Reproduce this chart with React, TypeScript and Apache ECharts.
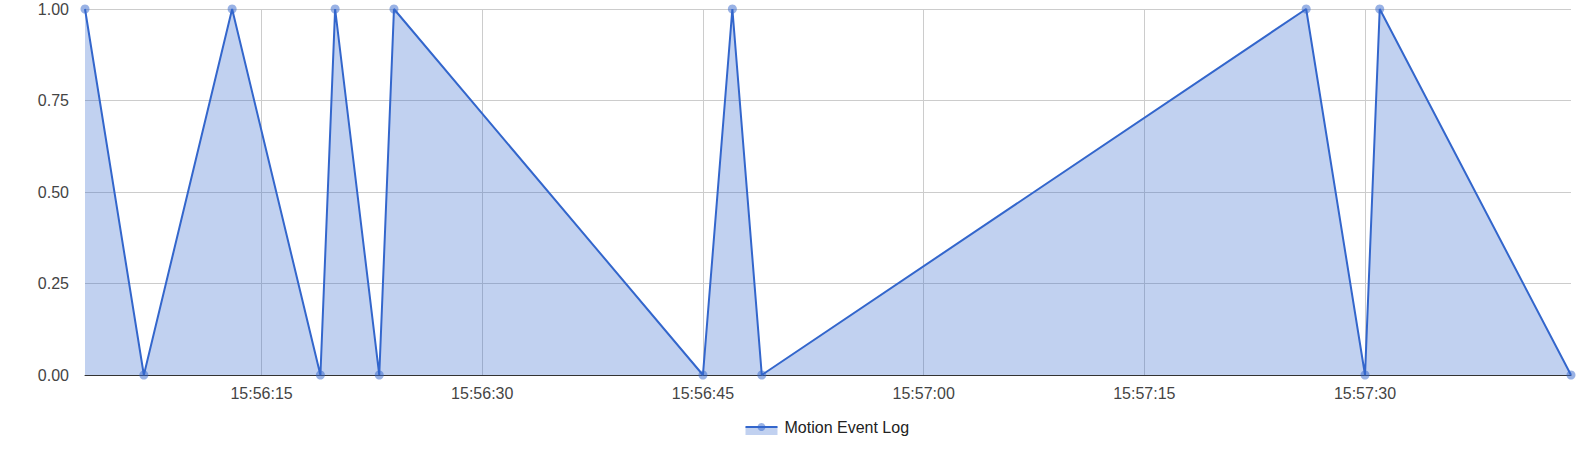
import React, { useEffect, useRef } from "react";
import * as echarts from "echarts";

const times = [
  "15:56:03", "15:56:07", "15:56:13", "15:56:19", "15:56:20", "15:56:23", "15:56:24",
  "15:56:45", "15:56:47", "15:56:49", "15:57:26", "15:57:30", "15:57:31", "15:57:44",
];
const values = [1, 0, 1, 0, 1, 0, 1, 0, 1, 0, 1, 0, 1, 0];
const xTickLabels = ["15:56:15", "15:56:30", "15:56:45", "15:57:00", "15:57:15", "15:57:30"];
const seriesName = "Motion Event Log";

const toSec = (s: string) => {
  const [h, m, sec] = s.split(":").map(Number);
  return h * 3600 + m * 60 + sec;
};
const pad = (n: number) => String(n).padStart(2, "0");
const fromSec = (v: number) => {
  const h = Math.floor(v / 3600);
  const m = Math.floor((v % 3600) / 60);
  const s = Math.round(v % 60);
  return `${pad(h)}:${pad(m)}:${pad(s)}`;
};

const FONT = "'Liberation Sans', Arial, sans-serif";

export default function App() {
  const ref = useRef<HTMLDivElement>(null);
  useEffect(() => {
    if (!ref.current) return;
    const chart = echarts.init(ref.current, undefined, { renderer: "svg" });
    const data = times.map((t, i) => [toSec(t), values[i]]);
    const ticks = xTickLabels.map(toSec);
    chart.setOption({
      animation: false,
      grid: { left: 85, right: 17, top: 9, bottom: 77, containLabel: false },
      xAxis: {
        type: "value",
        min: toSec(times[0]),
        max: toSec(times[times.length - 1]),
        axisLine: { show: true, onZero: false, lineStyle: { color: "#333", width: 1 } },
        axisTick: { show: false, customValues: ticks },
        axisLabel: {
          customValues: ticks,
          formatter: (v: number) => fromSec(v),
          color: "#444",
          fontSize: 16,
          fontFamily: FONT,
          margin: 10,
        },
        splitLine: { show: true, lineStyle: { color: "#ccc", width: 1 } },
      },
      yAxis: {
        type: "value",
        min: 0,
        max: 1,
        interval: 0.25,
        axisLine: { show: false },
        axisTick: { show: false },
        axisLabel: {
          formatter: (v: number) => v.toFixed(2),
          color: "#444",
          fontSize: 16,
          fontFamily: FONT,
          margin: 16,
        },
        splitLine: { show: true, lineStyle: { color: "#ccc", width: 1 } },
      },
      series: [
        {
          name: seriesName,
          type: "line",
          data,
          symbol: "circle",
          symbolSize: 9,
          showAllSymbol: true,
          itemStyle: { color: "rgba(51,102,204,0.5)" },
          lineStyle: { color: "#3366cc", width: 2 },
          areaStyle: { color: "rgba(51,102,204,0.3)", opacity: 1, origin: "start" },
          emphasis: { disabled: true },
        },
      ],
      graphic: [
        {
          type: "group",
          left: 743,
          top: 419,
          children: [
            { type: "rect", shape: { x: 0, y: 7, width: 32, height: 8 }, style: { fill: "rgba(51,102,204,0.3)" } },
            { type: "line", shape: { x1: 0, y1: 7, x2: 32, y2: 7 }, style: { stroke: "#3366cc", lineWidth: 2 } },
            { type: "circle", shape: { cx: 16, cy: 7, r: 4 }, style: { fill: "rgba(51,102,204,0.5)" } },
            {
              type: "text",
              x: 39,
              y: 7,
              style: {
                text: seriesName,
                fill: "#222",
                fontSize: 16,
                fontFamily: FONT,
                verticalAlign: "middle",
              },
            },
          ],
        },
      ],
    });
    return () => chart.dispose();
  }, []);
  return (
    <div
      ref={ref}
      style={{ position: "absolute", left: 0, top: 0, width: 1588, height: 452, background: "#fff" }}
    />
  );
}
